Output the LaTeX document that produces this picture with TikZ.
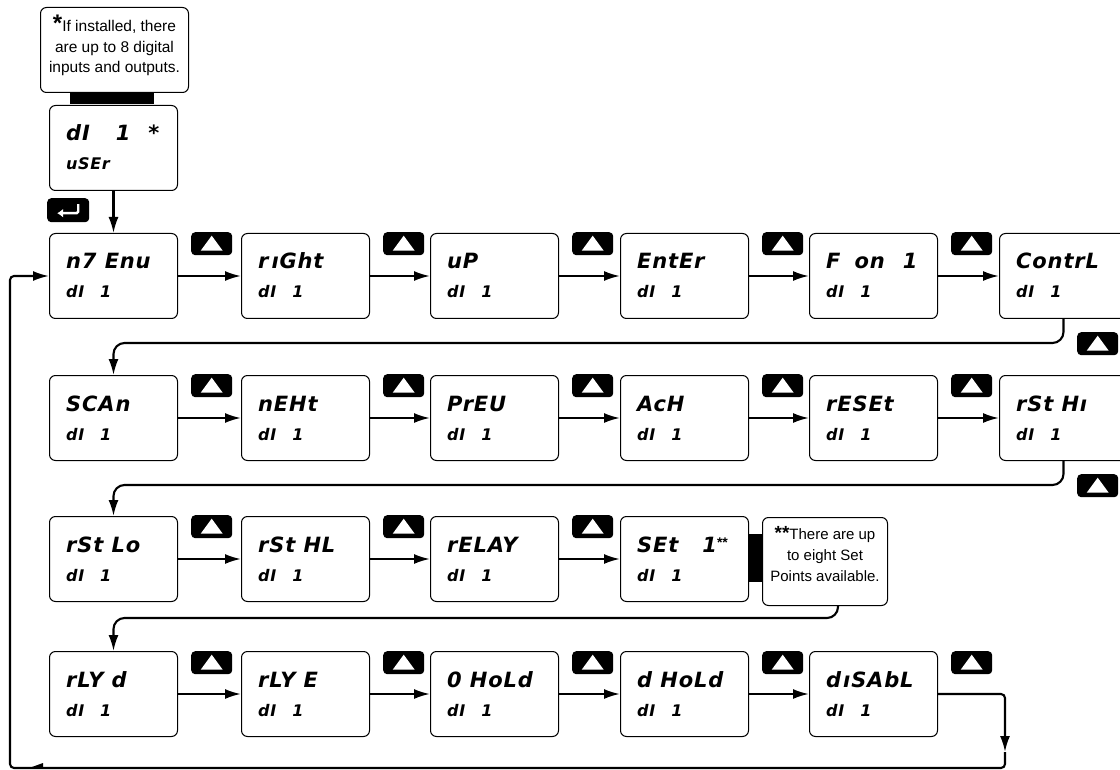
\documentclass[tikz,border=0pt]{standalone}
\usepackage{fontspec}
\setmainfont{Liberation Sans}
\newfontfamily\lcd{DejaVu Sans}[LetterSpace=4]
\usetikzlibrary{arrows.meta}
\tikzset{
 disp/.style={draw=black, line width=1pt, rounded corners=6pt, minimum width=128pt, minimum height=85pt, inner sep=0pt, fill=white},
 lcdtop/.style={inner sep=0pt, font=\lcd\bfseries\itshape\fontsize{21}{21}\selectfont},
 lcdbot/.style={inner sep=0pt, font=\lcd\bfseries\itshape\fontsize{16}{16}\selectfont},
 btn/.style={fill=black, rounded corners=4pt, minimum width=41pt, minimum height=23pt, inner sep=0pt},
 conn/.style={line width=2.1pt, -{Latex[length=16pt,width=10pt]}},
 note/.style={draw=black, line width=1pt, rounded corners=6pt, inner sep=0pt, fill=white},
 bar/.style={fill=black, inner sep=0pt},
}
\newcommand\mkdisp[5]{%
 \node[disp,anchor=north west] (#1) at (#2,#3) {};
 \node[lcdtop,anchor=base west] (#1t) at ([shift={(17pt,-36pt)}]#1.north west) {#4};
 \node[lcdbot,anchor=base west] (#1b) at ([shift={(17pt,-65pt)}]#1.north west) {#5};}
\newcommand\mkbtn[3]{%
 \node[btn,anchor=north west] (#1) at (#2,#3) {};
 \fill[white] ([shift={(-11pt,-7pt)}]#1.center) -- ([shift={(11pt,-7pt)}]#1.center) -- ([shift={(0pt,8pt)}]#1.center) -- cycle;}
\newcommand\dI{dI\hspace{16pt}1}
\newcommand\sstar[1]{{\rmfamily\upshape\bfseries\fontsize{14}{14}\selectfont\raisebox{5pt}{#1}}}
\begin{document}
\begin{tikzpicture}[x=1pt,y=-1pt]
\useasboundingbox (0,0) rectangle (1120,770);
\clip (0,0) rectangle (1120,770);
% top note
\node[note, anchor=north west, minimum width=148pt, minimum height=85pt] (n1) at (40,7) {};
\node[align=center, inner sep=0pt, anchor=north, font=\fontsize{15.5}{20.5}\selectfont] (n1t) at ([yshift=-8pt]n1.north)
 {{\bfseries\fontsize{24}{20}\selectfont *}If installed, there\\are up to 8 digital\\inputs and outputs.};
\node[bar, anchor=north west, minimum width=84pt, minimum height=12pt] (bar1) at (70,92) {};
\mkdisp{d0}{49}{105}{dI\hspace{26pt}1\hspace{18pt}*}{uSEr}
% enter key
\node[btn, anchor=north west, minimum width=42pt, minimum height=24pt] (ent) at (47,198) {};
\draw[white, line width=2.4pt, rounded corners=1.5pt, -{Latex[length=6pt,width=9pt]}] ([shift={(10pt,6pt)}]ent.center) -- ([shift={(10pt,-3pt)}]ent.center) -- ([shift={(-11pt,-3pt)}]ent.center);
% row 1
\mkdisp{b11}{49}{233}{n7 Enu}{\dI}
\mkdisp{b12}{241}{233}{r\hspace{3pt}ıGht}{\dI}
\mkdisp{b13}{430}{233}{uP}{\dI}
\mkdisp{b14}{620}{233}{EntEr}{\dI}
\mkdisp{b15}{809}{233}{F\hspace{14pt}on\hspace{18pt}1}{\dI}
\mkdisp{b16}{999}{233}{ContrL}{\dI}
% row 2
\mkdisp{b21}{49}{375}{SCAn}{\dI}
\mkdisp{b22}{241}{375}{nEHt}{\dI}
\mkdisp{b23}{430}{375}{PrEU}{\dI}
\mkdisp{b24}{620}{375}{AcH}{\dI}
\mkdisp{b25}{809}{375}{rESEt}{\dI}
\mkdisp{b26}{999}{375}{rSt Hı}{\dI}
% row 3
\mkdisp{b31}{49}{516}{rSt Lo}{\dI}
\mkdisp{b32}{241}{516}{rSt HL}{\dI}
\mkdisp{b33}{430}{516}{rELAY}{\dI}
\mkdisp{b34}{620}{516}{SEt\hspace{24pt}1\sstar{**}}{\dI}
\node[bar, anchor=north west, minimum width=14pt, minimum height=48pt] (bar2) at (748,534) {};
\node[note, anchor=north west, minimum width=125pt, minimum height=88pt] (n2) at (762,517) {};
\node[align=center, inner sep=0pt, anchor=north, font=\fontsize{15}{21}\selectfont] (n2t) at ([yshift=-9pt]n2.north)
 {{\bfseries\fontsize{19}{20}\selectfont **}There are up\\to eight Set\\Points available.};
% row 4
\mkdisp{b41}{49}{651}{rLY d}{\dI}
\mkdisp{b42}{241}{651}{rLY E}{\dI}
\mkdisp{b43}{430}{651}{0 HoLd}{\dI}
\mkdisp{b44}{620}{651}{d HoLd}{\dI}
\mkdisp{b45}{809}{651}{d\hspace{2pt}ıSAbL}{\dI}
% buttons
\mkbtn{u11}{191}{232}\mkbtn{u12}{383}{232}\mkbtn{u13}{572}{232}\mkbtn{u14}{762}{232}\mkbtn{u15}{951}{232}
\mkbtn{u21}{191}{374}\mkbtn{u22}{383}{374}\mkbtn{u23}{572}{374}\mkbtn{u24}{762}{374}\mkbtn{u25}{951}{374}
\mkbtn{u31}{191}{515}\mkbtn{u32}{383}{515}\mkbtn{u33}{572}{515}
\mkbtn{u41}{191}{651}\mkbtn{u42}{383}{651}\mkbtn{u43}{572}{651}\mkbtn{u44}{762}{651}\mkbtn{u45}{951}{651}
\mkbtn{r1}{1077}{332}\mkbtn{r2}{1077}{474}
% connectors
\draw[conn] (d0.south) -- (b11.north);
\draw[conn] (b11.east) -- (b12.west);
\draw[conn] (b12.east) -- (b13.west);
\draw[conn] (b13.east) -- (b14.west);
\draw[conn] (b14.east) -- (b15.west);
\draw[conn] (b15.east) -- (b16.west);
\draw[conn] (b21.east) -- (b22.west);
\draw[conn] (b22.east) -- (b23.west);
\draw[conn] (b23.east) -- (b24.west);
\draw[conn] (b24.east) -- (b25.west);
\draw[conn] (b25.east) -- (b26.west);
\draw[conn] (b31.east) -- (b32.west);
\draw[conn] (b32.east) -- (b33.west);
\draw[conn] (b33.east) -- (b34.west);
\draw[conn] (b41.east) -- (b42.west);
\draw[conn] (b42.east) -- (b43.west);
\draw[conn] (b43.east) -- (b44.west);
\draw[conn] (b44.east) -- (b45.west);
\coordinate (h1) at (0,343);
\coordinate (h2) at (0,485);
\coordinate (h3) at (0,618);
\coordinate (x3) at (838,0);
\draw[conn, rounded corners=11pt] (b16.south) -- (b16.south |- h1) -- (b21.north |- h1) -- (b21.north);
\draw[conn, rounded corners=11pt] (b26.south) -- (b26.south |- h2) -- (b31.north |- h2) -- (b31.north);
\draw[conn, rounded corners=11pt] (x3 |- n2.south) -- (x3 |- h3) -- (b41.north |- h3) -- (b41.north);
\coordinate (lx) at (1005,0);
\coordinate (la) at (1005,752);
\coordinate (ly) at (0,768);
\coordinate (lz) at (10,0);
\draw[conn, rounded corners=4pt] (b45.east) -- (lx |- b45.east) -- (la);
\draw[conn, rounded corners=4pt] (la) -- (lx |- ly) -- (lz |- ly) -- (lz |- b11.west) -- (b11.west);
\fill (32,767) -- (43,763) -- (43,767) -- cycle;
\end{tikzpicture}
\end{document}
